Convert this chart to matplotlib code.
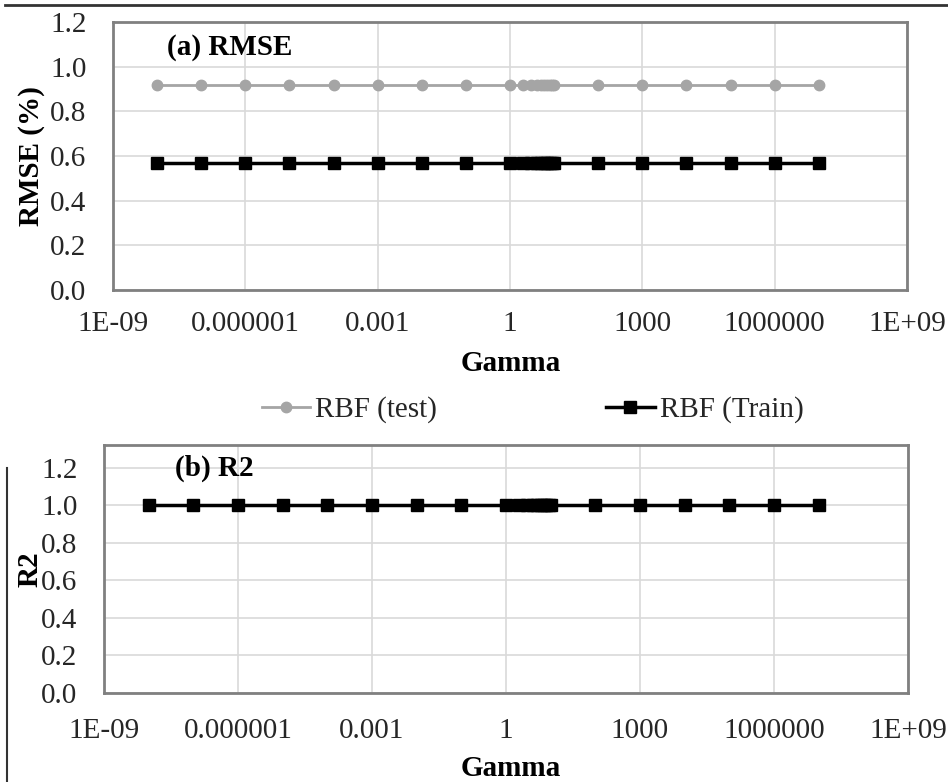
import matplotlib
matplotlib.use("Agg")
import matplotlib.pyplot as plt
from matplotlib.lines import Line2D
from matplotlib.ticker import FixedLocator, FixedFormatter, NullLocator

plt.rcParams["font.family"] = ["Liberation Serif", "DejaVu Serif"]
plt.rcParams["font.size"] = 21

# Gamma values tested (log-spaced sweep plus 1..10)
gamma = [1e-8, 1e-7, 1e-6, 1e-5, 1e-4, 1e-3, 1e-2, 1e-1,
         1, 2, 3, 4, 5, 6, 7, 8, 9, 10,
         1e2, 1e3, 1e4, 1e5, 1e6, 1e7]

rmse_test = [0.92, 0.92, 0.92, 0.92, 0.92, 0.92, 0.92, 0.92,
             0.92, 0.92, 0.92, 0.92, 0.92, 0.92, 0.92, 0.92, 0.92, 0.92,
             0.92, 0.92, 0.92, 0.92, 0.92, 0.92]
rmse_train = [0.57, 0.57, 0.57, 0.57, 0.57, 0.57, 0.57, 0.57,
              0.57, 0.57, 0.57, 0.57, 0.57, 0.57, 0.57, 0.57, 0.57, 0.57,
              0.57, 0.57, 0.57, 0.57, 0.57, 0.57]
r2_test = [1.0, 1.0, 1.0, 1.0, 1.0, 1.0, 1.0, 1.0,
           1.0, 1.0, 1.0, 1.0, 1.0, 1.0, 1.0, 1.0, 1.0, 1.0,
           1.0, 1.0, 1.0, 1.0, 1.0, 1.0]
r2_train = [1.0, 1.0, 1.0, 1.0, 1.0, 1.0, 1.0, 1.0,
            1.0, 1.0, 1.0, 1.0, 1.0, 1.0, 1.0, 1.0, 1.0, 1.0,
            1.0, 1.0, 1.0, 1.0, 1.0, 1.0]

x_ticks = [1e-9, 1e-6, 1e-3, 1, 1e3, 1e6, 1e9]
x_ticklabels = ["1E-09", "0.000001", "0.001", "1", "1000", "1000000", "1E+09"]
y_ticks = [0.0, 0.2, 0.4, 0.6, 0.8, 1.0, 1.2]
y_ticklabels = ["0.0", "0.2", "0.4", "0.6", "0.8", "1.0", "1.2"]

GRAY = "#a5a5a5"
FRAME = "#808080"
GRID = "#d9d9d9"

fig = plt.figure(figsize=(9.48, 7.82), dpi=100)
ax1 = fig.add_axes([0.1192, 0.6292, 0.8376, 0.3427])
ax2 = fig.add_axes([0.1097, 0.1138, 0.8481, 0.3171])


def style_axis(ax, ymax, xpad):
    ax.set_xscale("log")
    ax.set_xlim(1e-9, 1e9)
    ax.set_ylim(0, ymax)
    ax.xaxis.set_major_locator(FixedLocator(x_ticks))
    ax.xaxis.set_major_formatter(FixedFormatter(x_ticklabels))
    ax.xaxis.set_minor_locator(NullLocator())
    ax.set_yticks(y_ticks)
    ax.set_yticklabels(y_ticklabels)
    ax.tick_params(axis="both", length=0, labelcolor="#262626")
    ax.tick_params(axis="x", pad=xpad)
    ax.tick_params(axis="y", pad=19)
    ax.grid(True, color=GRID, linewidth=1.2)
    ax.set_axisbelow(True)
    for sp in ax.spines.values():
        sp.set_color(FRAME)
        sp.set_linewidth(2)


style_axis(ax1, 1.2, 15)
style_axis(ax2, 1.32, 18)

# (a) RMSE
ax1.plot(gamma, rmse_test, color=GRAY, lw=2, marker="o", ms=7.5,
         label="RBF (test)", clip_on=False, zorder=3)
ax1.plot(gamma, rmse_train, color="black", lw=2.5, marker="s", ms=9,
         label="RBF (Train)", clip_on=False, zorder=4)
ax1.text(0.068, 0.905, "(a) RMSE", transform=ax1.transAxes,
         fontweight="bold", va="center", ha="left")
ax1.set_ylabel("RMSE (%)", fontweight="bold")
ax1.yaxis.set_label_coords(-0.086, 0.5)
ax1.set_xlabel("Gamma", fontweight="bold")
ax1.xaxis.set_label_coords(0.501, -0.225)

# (b) R2
ax2.plot(gamma, r2_test, color=GRAY, lw=2, marker="o", ms=7.5,
         clip_on=False, zorder=3)
ax2.plot(gamma, r2_train, color="black", lw=2.5, marker="s", ms=9,
         clip_on=False, zorder=4)
ax2.text(0.088, 0.905, "(b) R2", transform=ax2.transAxes,
         fontweight="bold", va="center", ha="left")
ax2.set_ylabel("R2", fontweight="bold")
ax2.yaxis.set_label_coords(-0.075, 0.5)
ax2.set_xlabel("Gamma", fontweight="bold")
ax2.xaxis.set_label_coords(0.506, -0.248)

fig.legend(*ax1.get_legend_handles_labels(), loc="center", ncol=2,
           bbox_to_anchor=(0.562, 1 - 410 / 782), frameon=False,
           handlelength=1.65, handletextpad=0.17, columnspacing=5.8,
           labelcolor="#262626")

# border rules from the source page
fig.add_artist(Line2D([5 / 948, 1.0], [1 - 5 / 782, 1 - 5 / 782],
                      transform=fig.transFigure, color="#333333", lw=2))
fig.add_artist(Line2D([7 / 948, 7 / 948], [0.0, 1 - 468 / 782],
                      transform=fig.transFigure, color="#333333", lw=1.5))

fig.savefig("out.png", dpi=100)
